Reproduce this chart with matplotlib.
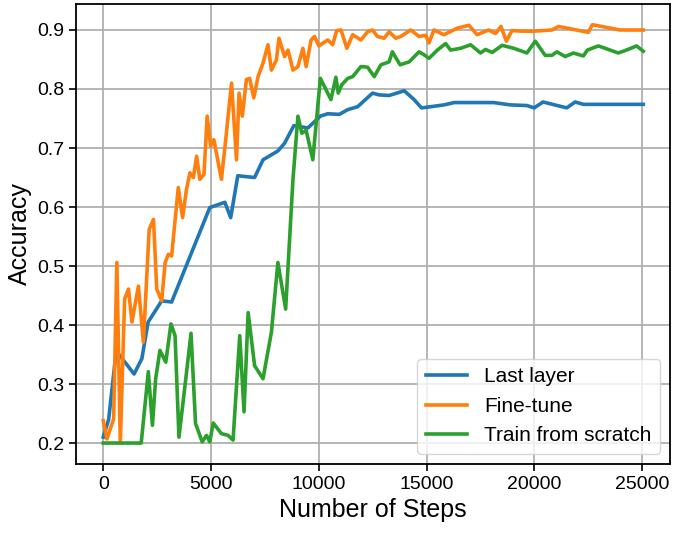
import matplotlib
matplotlib.use("Agg")
import matplotlib.pyplot as plt

plt.rcParams["font.family"] = ["Liberation Sans", "DejaVu Sans"]

# Last layer
last_steps = [0, 250, 600, 1430, 1790, 2080, 2710, 3170, 4940, 5640, 5910, 6240,
              7020, 7410, 8100, 8410, 8840, 9490, 10070, 10410, 10950, 11340,
              11800, 12490, 12800, 13260, 13960, 14420, 14760, 15190, 15800,
              16270, 18110, 18890, 19650, 19990, 20400, 21500, 21890, 22270, 25050]
last_acc = [0.21, 0.24, 0.356, 0.317, 0.343, 0.405, 0.441, 0.439, 0.599, 0.608,
            0.582, 0.653, 0.65, 0.68, 0.695, 0.708, 0.738, 0.734, 0.754, 0.758,
            0.757, 0.765, 0.77, 0.793, 0.79, 0.789, 0.797, 0.782, 0.768, 0.77,
            0.773, 0.777, 0.777, 0.773, 0.772, 0.768, 0.778, 0.768, 0.778, 0.774, 0.774]

# Fine-tune
fine_steps = [0, 170, 480, 630, 790, 990, 1170, 1330, 1630, 1860, 2130, 2330,
              2480, 2710, 2870, 3020, 3170, 3480, 3680, 3860, 4020, 4180, 4330,
              4480, 4670, 4820, 4980, 5130, 5480, 5680, 5950, 6180, 6300, 6450,
              6640, 6790, 6980, 7180, 7410, 7640, 7800, 8030, 8150, 8410, 8570,
              8800, 9030, 9260, 9410, 9640, 9800, 10000, 10410, 10640, 10830,
              11030, 11300, 11570, 11950, 12260, 12490, 12720, 13030, 13260,
              13570, 13800, 14260, 14650, 14960, 15110, 15340, 15800, 16420,
              16960, 17340, 17880, 18190, 18450, 18700, 18960, 19420, 19960,
              20810, 21120, 22500, 22690, 23970, 25050]
fine_acc = [0.238, 0.207, 0.241, 0.506, 0.2, 0.444, 0.461, 0.405, 0.466, 0.371,
            0.562, 0.579, 0.461, 0.441, 0.506, 0.52, 0.517, 0.633, 0.582, 0.63,
            0.658, 0.65, 0.686, 0.647, 0.655, 0.754, 0.703, 0.714, 0.647, 0.714,
            0.81, 0.68, 0.793, 0.754, 0.816, 0.818, 0.785, 0.821, 0.844, 0.875,
            0.832, 0.849, 0.886, 0.855, 0.866, 0.832, 0.838, 0.869, 0.838, 0.883,
            0.889, 0.873, 0.883, 0.875, 0.899, 0.9, 0.869, 0.892, 0.883, 0.897,
            0.9, 0.889, 0.886, 0.897, 0.886, 0.889, 0.9, 0.889, 0.891, 0.878,
            0.9, 0.892, 0.903, 0.908, 0.892, 0.9, 0.894, 0.906, 0.881, 0.899,
            0.898, 0.898, 0.9, 0.906, 0.896, 0.909, 0.9, 0.9]

# Train from scratch
scratch_steps = [0, 1760, 2090, 2280, 2430, 2630, 2900, 3140, 3330, 3510, 3790,
                 4070, 4280, 4590, 4790, 4940, 5100, 5480, 5790, 6020, 6330,
                 6530, 6720, 7020, 7410, 7800, 8100, 8460, 8800, 9030, 9210,
                 9410, 9720, 10070, 10560, 10790, 10900, 11060, 11340, 11570,
                 11950, 12260, 12570, 12880, 13260, 13410, 13770, 14190, 14650,
                 14880, 15110, 15500, 15880, 16110, 16580, 17040, 17500, 17730,
                 18040, 18500, 19040, 19650, 20040, 20500, 20810, 21040, 21430,
                 21810, 22270, 22460, 22970, 23430, 23890, 24270, 24740, 25050]
scratch_acc = [0.2, 0.2, 0.321, 0.23, 0.309, 0.357, 0.337, 0.402, 0.382, 0.21,
               0.297, 0.386, 0.233, 0.202, 0.213, 0.202, 0.234, 0.216, 0.213,
               0.205, 0.382, 0.253, 0.421, 0.331, 0.309, 0.388, 0.506, 0.427,
               0.647, 0.754, 0.725, 0.73, 0.68, 0.818, 0.782, 0.82, 0.793, 0.807,
               0.818, 0.821, 0.838, 0.837, 0.821, 0.841, 0.846, 0.863, 0.841,
               0.846, 0.863, 0.858, 0.852, 0.866, 0.877, 0.866, 0.869, 0.875,
               0.861, 0.867, 0.862, 0.874, 0.869, 0.861, 0.881, 0.857, 0.857,
               0.863, 0.855, 0.861, 0.856, 0.866, 0.873, 0.867, 0.861, 0.866,
               0.873, 0.864]

fig = plt.figure(figsize=(6.75, 5.37), dpi=100)
ax = fig.add_axes([0.113, 0.136, 0.880, 0.857])

ax.plot(last_steps, last_acc, color="#1f77b4", lw=2.6, label="Last layer")
ax.plot(fine_steps, fine_acc, color="#ff7f0e", lw=2.6, label="Fine-tune")
ax.plot(scratch_steps, scratch_acc, color="#2ca02c", lw=2.6, label="Train from scratch")

ax.grid(True, color="#b0b0b0", lw=1.3)
ax.set_axisbelow(True)
ax.set_xticks([0, 5000, 10000, 15000, 20000, 25000])
ax.set_yticks([0.2, 0.3, 0.4, 0.5, 0.6, 0.7, 0.8, 0.9])
ax.tick_params(labelsize=14, width=1.2, length=5)
for sp in ax.spines.values():
    sp.set_linewidth(1.3)

ax.set_xlabel("Number of Steps", fontsize=18)
ax.set_ylabel("Accuracy", fontsize=18)
ax.legend(loc="lower right", fontsize=15, handlelength=2.0)

fig.savefig("out.png", dpi=100)
